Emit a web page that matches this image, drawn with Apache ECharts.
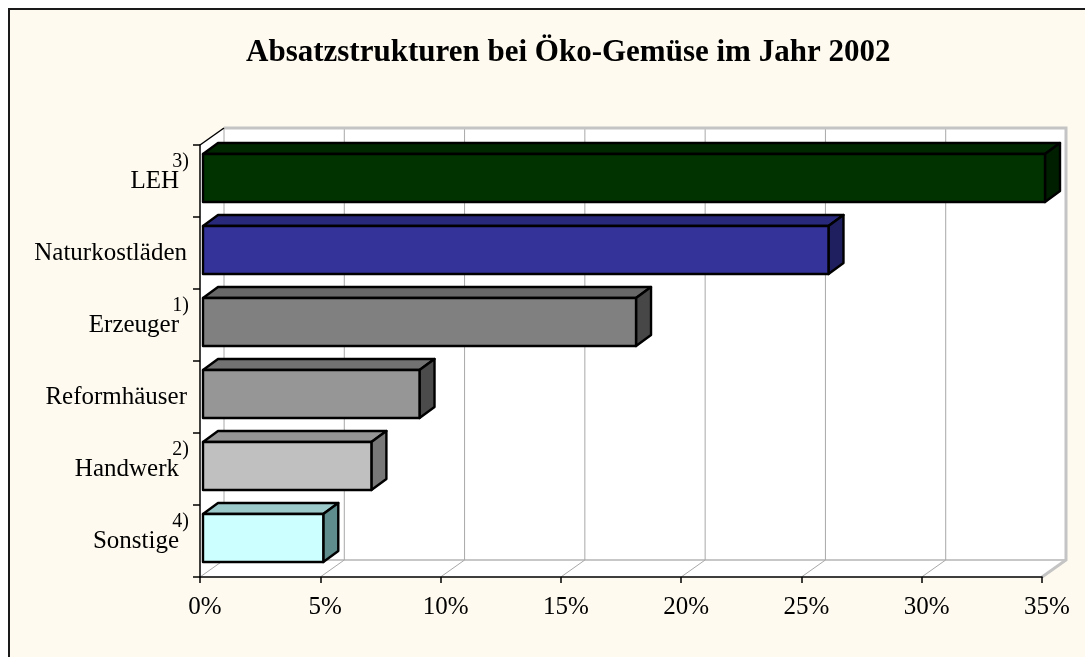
<!DOCTYPE html>
<html>
<head>
<meta charset="utf-8">
<script src="https://cdn.jsdelivr.net/npm/echarts@6/dist/echarts.min.js"></script>
<style>
html, body { margin: 0; padding: 0; background: #fff; }
#frame {
  position: absolute; left: 8px; top: 8px; width: 1200px; height: 800px;
  background: #fefaef; border-top: 2px solid #1a1a1a; border-left: 2px solid #1a1a1a;
}
#app { position: absolute; left: 0; top: 0; width: 1085px; height: 657px; }
</style>
</head>
<body>
<div id="frame"></div>
<div id="app"></div>
<script>
const categories = ['LEH', 'Naturkostläden', 'Erzeuger', 'Reformhäuser', 'Handwerk', 'Sonstige'];
const footnotes = ['3)', '', '1)', '', '2)', '4)'];
const shares = [35, 26, 18, 9, 7, 5];
const xTicks = [0, 5, 10, 15, 20, 25, 30, 35];

// front, top, side
const barColors = [
  ['#003300', '#002800', '#001e00'],
  ['#333399', '#29297c', '#1f1f60'],
  ['#808080', '#686868', '#474747'],
  ['#969696', '#727272', '#4b4b4b'],
  ['#c0c0c0', '#959595', '#787878'],
  ['#ccffff', '#9ccaca', '#5f8c8c']
];

const FONT = '"Liberation Serif", "Times New Roman", serif';
// depth of the walls and of the bars
const DX = 24, DY = -17;
const BX = 15, BY = -11;

const chart = echarts.init(document.getElementById('app'));

function renderWall(params, api) {
  const cs = params.coordSys;
  const left = cs.x, top = cs.y, right = cs.x + cs.width, bottom = cs.y + cs.height;
  const x = api.coord([api.value(0), 0])[0];
  const kids = [];
  if (params.dataIndex === 0) {
    kids.push({
      type: 'polygon', z2: 0,
      shape: { points: [[left, top], [left + DX, top + DY], [right + DX, top + DY], [right + DX, bottom + DY], [right, bottom], [left, bottom]] },
      style: { fill: '#fff' }
    });
    kids.push({
      type: 'line', z2: 1,
      shape: { x1: left + DX, y1: bottom + DY, x2: right + DX, y2: bottom + DY },
      style: { stroke: '#b4b4b4', lineWidth: 1.5 }
    });
    kids.push({
      type: 'line', z2: 3,
      shape: { x1: left, y1: top, x2: left + DX, y2: top + DY },
      style: { stroke: '#000', lineWidth: 1.5 }
    });
  }
  kids.push({
    type: 'line', z2: 1,
    shape: { x1: x + DX, y1: top + DY, x2: x + DX, y2: bottom + DY },
    style: { stroke: '#a8a8a8', lineWidth: 1 }
  });
  kids.push({
    type: 'line', z2: 1,
    shape: { x1: x, y1: bottom, x2: x + DX, y2: bottom + DY },
    style: { stroke: '#a8a8a8', lineWidth: 1 }
  });
  if (params.dataIndex === xTicks.length - 1) {
    kids.push({
      type: 'polyline', z2: 2,
      shape: { points: [[left + DX, top + DY], [right + DX, top + DY], [right + DX, bottom + DY], [right, bottom]] },
      style: { stroke: '#c4c4c4', lineWidth: 3, fill: null }
    });
  }
  return { type: 'group', children: kids };
}

function renderBar(params, api) {
  const i = api.value(1);
  const p0 = api.coord([0, i]);
  const p1 = api.coord([api.value(0), i]);
  const band = api.size([0, 1])[1];
  const x0 = p0[0] + 3, x1 = p1[0] + 3;
  const y0 = p0[1] - band * 0.375, y1 = p0[1] + band * 0.292;
  const c = barColors[i];
  const line = { stroke: '#000', lineWidth: 2.4, lineJoin: 'round' };
  return {
    type: 'group',
    children: [
      {
        type: 'polygon',
        shape: { points: [[x0, y0], [x0 + BX, y0 + BY], [x1 + BX, y0 + BY], [x1, y0]] },
        style: Object.assign({ fill: c[1] }, line)
      },
      {
        type: 'polygon',
        shape: { points: [[x1, y0], [x1 + BX, y0 + BY], [x1 + BX, y1 + BY], [x1, y1]] },
        style: Object.assign({ fill: c[2] }, line)
      },
      {
        type: 'rect',
        shape: { x: x0, y: y0, width: x1 - x0, height: y1 - y0 },
        style: Object.assign({ fill: c[0] }, line)
      }
    ]
  };
}

chart.setOption({
  animation: false,
  title: {
    text: 'Absatzstrukturen bei Öko-Gemüse im Jahr 2002',
    left: 241,
    top: 32,
    textStyle: { fontFamily: FONT, fontWeight: 'bold', fontSize: 31, color: '#000' }
  },
  grid: { left: 200, right: 43, top: 145, bottom: 80 },
  xAxis: {
    type: 'value',
    min: 0,
    max: 35,
    interval: 5,
    z: 5,
    axisLine: { show: true, lineStyle: { color: '#000', width: 1.5 } },
    axisTick: { show: true, length: 6, lineStyle: { color: '#000', width: 1.5 } },
    splitLine: { show: false },
    axisLabel: {
      formatter: '{value}%',
      margin: 18,
      padding: [0, 0, 0, 10],
      fontFamily: FONT,
      fontSize: 25,
      color: '#000'
    }
  },
  yAxis: [
    {
      type: 'category',
      data: categories,
      inverse: true,
      z: 5,
      axisLine: { show: true, lineStyle: { color: '#000', width: 1.5 } },
      axisTick: { show: true, length: 7, lineStyle: { color: '#000', width: 1.5 } },
      axisLabel: {
        margin: 13,
        fontFamily: FONT,
        fontSize: 25,
        color: '#000',
        formatter(v, i) {
          return footnotes[i] ? `{f|${v}}` : `{n|${v}}`
        },
        rich: {
          f: { fontFamily: FONT, fontSize: 25, color: '#000', padding: [0, 8, 0, 0] },
          n: { fontFamily: FONT, fontSize: 25, color: '#000' }
        }
      }
    },
    {
      type: 'category',
      data: categories,
      inverse: true,
      position: 'left',
      axisLine: { show: false },
      axisTick: { show: false },
      axisLabel: {
        margin: 11,
        formatter(v, i) {
          return footnotes[i] ? `{s|${footnotes[i]}}\n{e| }` : ''
        },
        rich: {
          s: { fontFamily: FONT, fontSize: 20, lineHeight: 20, color: '#000' },
          e: { fontSize: 10, lineHeight: 38 }
        }
      }
    }
  ],
  series: [
    {
      type: 'custom',
      z: 1,
      renderItem: renderWall,
      data: xTicks.map(v => [v, 0]),
      encode: { x: 0, y: 1 },
      silent: true
    },
    {
      type: 'custom',
      z: 2,
      renderItem: renderBar,
      data: shares.map((v, i) => [v, i]),
      encode: { x: 0, y: 1 }
    }
  ]
})
</script>
</body>
</html>
